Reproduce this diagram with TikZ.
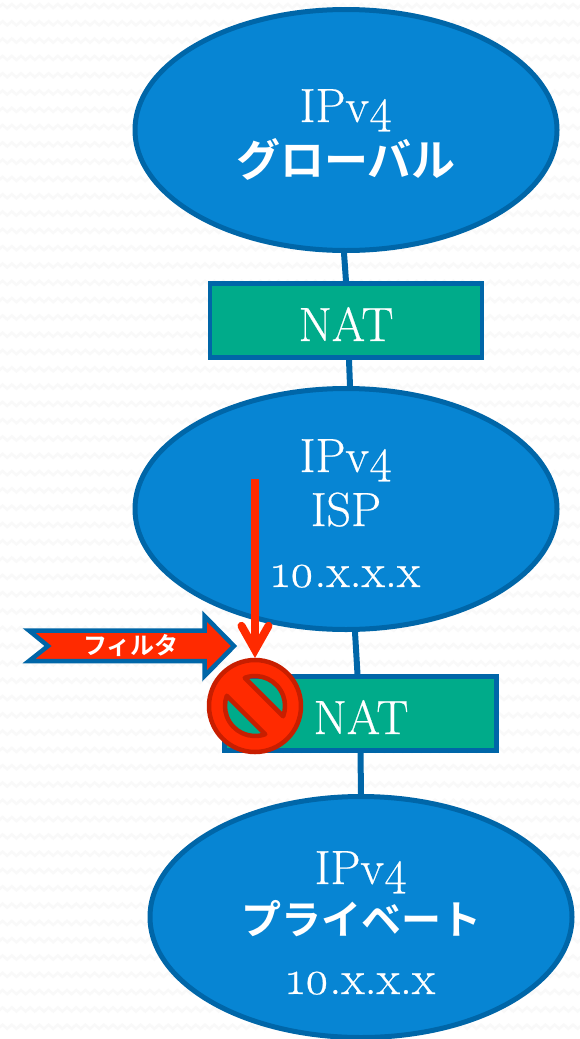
\documentclass[tikz,border=0pt]{standalone}
\usepackage{fontspec}
\setmainfont{Latin Modern Roman}[Numbers=OldStyle,FakeBold=0.5]
\newfontfamily\cjk{Noto Sans CJK JP}[BoldFont=* Bold]
\usetikzlibrary{arrows.meta,shapes.geometric}
\definecolor{netblue}{HTML}{0785D3}
\definecolor{edgeblue}{HTML}{0066A8}
\definecolor{natgreen}{HTML}{00AB8A}
\definecolor{alertred}{HTML}{FF2A00}
\definecolor{alertdark}{HTML}{C81E00}
\tikzset{
	net/.style={ellipse, draw=edgeblue, fill=netblue, line width=5pt, minimum width=422pt, minimum height=241pt, inner sep=0pt},
	natbox/.style={rectangle, draw=edgeblue, fill=natgreen, line width=4.5pt, minimum width=272pt, minimum height=74pt, inner sep=0pt},
	link/.style={draw=edgeblue, line width=6pt},
	big/.style={text=white, anchor=base, font=\fontsize{48}{50}\selectfont},
	kana/.style={text=white, anchor=base, font=\fontsize{#1}{50}\selectfont\cjk\bfseries},
}
\begin{document}
\begin{tikzpicture}[x=1pt, y=-1pt]
	%%%%% START %%%%%
	\useasboundingbox (0, 0) rectangle (579, 1039);
	\fill[white] (0, 0) rectangle (579, 1039);
	
	% faint paper texture
	\foreach \row in {0, 1, ..., 60} {
		\draw[black!2.5, line width=2.5pt] (-2, 8 + 17.3*\row)
			\foreach \col in {0, 1, ..., 64} { -- ++(4.6, -4) -- ++(4.6, 4) };
	}
	
	\node[net] (global) at (346, 130) {};
	\node[natbox] (natupper) at (346, 320.5) {};
	\node[net] (isp) at (346, 509) {};
	\node[natbox] (natlower) at (360.5, 713.5) {};
	\node[net] (private) at (361, 917) {};
	
	\draw[link] ([xshift=-2pt]global.south) -- (natupper.north);
	\draw[link] ([xshift=3pt]natupper.south) -- ([xshift=4pt]isp.north);
	\draw[link] ([xshift=9pt]isp.south) -- ([xshift=-3pt]natlower.north);
	\draw[link] (natlower.south) -- (private.north);
	
	\node[big] (globalname) at (346, 122) {IPv4};
	\node[kana=44] (globalkana) at (346, 176) {グローバル};
	\node[big] (natuppername) at (346, 341) {NAT};
	\node[big] (ispname) at (346, 472) {IPv4};
	\node[big] (ispkana) at (346, 526) {ISP};
	\node[big] (ispaddr) at (346, 587) {10.x.x.x};
	\node[big] (natlowername) at (361, 734) {NAT};
	\node[big] (privatename) at (361, 884) {IPv4};
	\node[kana=40] (privatekana) at (361, 934) {プライベート};
	\node[big] (privateaddr) at (361, 994) {10.x.x.x};
	
	% filter arrow
	\draw[fill=alertred, draw=edgeblue, line width=4.5pt, miter limit=10]
		(29, 630.5) -- (48, 646) -- (29, 661) -- (204.5, 661) -- (204.5, 676) -- (234, 646) -- (204.5, 616) -- (204.5, 630.5) -- cycle;
	\node[text=white, font=\fontsize{24}{26}\selectfont\cjk\bfseries] (filtername) at (131, 646) {フィルタ};
	
	% prohibition mark
	\coordinate (stopmark) at (255, 706);
	\draw[fill=alertred, draw=alertdark, line width=4.5pt, line join=round, even odd rule]
		(stopmark) circle (46)
		([shift={(-110:30)}]stopmark) arc (-110:20:30) -- cycle
		([shift={(70:30)}]stopmark) arc (70:200:30) -- cycle;
	
	% blocked path
	\coordinate (blockstart) at (255, 479);
	\coordinate (blockend) at (255, 658);
	\draw[alertred, line width=8pt, line join=round, -{Straight Barb[length=24pt, width=27pt, line cap=round]}] (blockstart) -- (blockend);
	%%%%% END %%%%%
\end{tikzpicture}
\end{document}
